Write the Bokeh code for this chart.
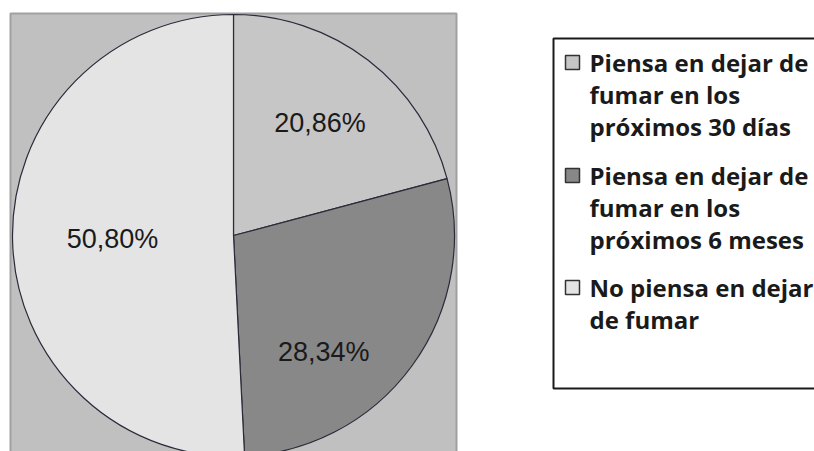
import math
from bokeh.plotting import figure
from bokeh.models import Range1d, ColumnDataSource
from bokeh.core.properties import value
from bokeh.embed import file_html
from bokeh.resources import INLINE

# ---- data ----
categories = [
    "Piensa en dejar de\nfumar en los\npróximos 30 días",
    "Piensa en dejar de\nfumar en los\npróximos 6 meses",
    "No piensa en dejar\nde fumar",
]
percentages = [20.86, 28.34, 50.80]
labels = ["20,86%", "28,34%", "50,80%"]
colors = ["#c6c6c6", "#888888", "#e3e4e3"]

# ---- layout (pixels, y measured from top) ----
W, H = 814, 451
cx, cy_top, R = 233, 235, 221
label_r = [142, 147, 121]
label_da = [0.0, -16.0, 0.0]   # degrees tweak from mid angle

def Y(py):
    return H - py

p = figure(width=W, height=H, output_backend="svg", toolbar_location=None,
           x_range=Range1d(0, W), y_range=Range1d(0, H), min_border=0)
p.axis.visible = False
p.grid.visible = False
p.outline_line_color = None
p.background_fill_color = "white"
p.border_fill_color = "white"

# plot area box
p.quad(left=[10], right=[456], top=[Y(13)], bottom=[Y(470)],
       fill_color="#c0c0c0", line_color="#a0a0a0", line_width=2)

# wedges
total = sum(percentages)
starts, ends, mids = [], [], []
acc = 0.0
for v in percentages:
    a0 = math.pi / 2 - acc / total * 2 * math.pi
    acc += v
    a1 = math.pi / 2 - acc / total * 2 * math.pi
    starts.append(a0)
    ends.append(a1)
    mids.append((a0 + a1) / 2)

src = ColumnDataSource(dict(start=starts, end=ends, color=colors))
p.wedge(x=cx, y=Y(cy_top), radius=R, start_angle="start", end_angle="end",
        direction="clock", fill_color="color", line_color="#2a2a3a",
        line_width=1.2, source=src)

lx = [cx + r * math.cos(m + math.radians(d)) for r, m, d in zip(label_r, mids, label_da)]
ly = [Y(cy_top) + r * math.sin(m + math.radians(d)) for r, m, d in zip(label_r, mids, label_da)]
p.text(x=lx, y=ly, text=labels, text_align="center", text_baseline="middle",
       text_font=value("Liberation Sans"), text_font_size="27px", text_color="#1a1a1a")

# legend box
p.quad(left=[553], right=[W + 20], top=[Y(38)], bottom=[Y(388)],
       fill_color="white", line_color="#1a1a1a", line_width=2)

entry_mid = [62, 175, 287]   # vertical middle of first line of each entry
line_h = 32
sq_cx, sq = 572, 14
tx = 589
lg_x, lg_y, lg_t, sq_xs, sq_ys = [], [], [], [], []
for cat, m in zip(categories, entry_mid):
    sq_xs.append(sq_cx)
    sq_ys.append(Y(m))
    for i, ln in enumerate(cat.split("\n")):
        lg_x.append(tx)
        lg_y.append(Y(m + i * line_h))
        lg_t.append(ln)

p.rect(x=sq_xs, y=sq_ys, width=sq, height=sq, fill_color=colors,
       line_color="#333333", line_width=1.5)
p.text(x=lg_x, y=lg_y, text=lg_t, text_align="left", text_baseline="middle",
       text_font=value("Open Sans"), text_font_style="bold", text_font_size="24px",
       text_color="#1a1a1a")

open("out.html", "w").write(file_html(p, INLINE))
